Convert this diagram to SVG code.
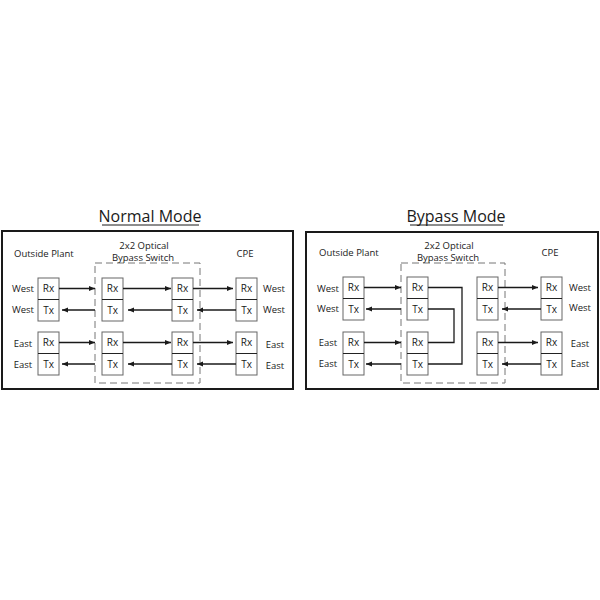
<svg xmlns="http://www.w3.org/2000/svg" width="600" height="600" viewBox="0 0 600 600">
<defs>
<marker id="ah" viewBox="0 0 6 6" refX="6" refY="3" markerWidth="6" markerHeight="6" markerUnits="userSpaceOnUse" orient="auto">
<path d="M0,0.5 L6,3 L0,5.5 Z" fill="#1a1a1a"/>
</marker>
<style>
text{font-family:"Open Sans","Liberation Sans",sans-serif;fill:#1a1a1a}
.t{font-size:16px;text-anchor:middle}
.l{font-size:9.5px}
.b{font-size:10px}
.c{text-anchor:middle}
.box{fill:#fff;stroke:#666;stroke-width:1}
.div{stroke:#222;stroke-width:1}
.frame{fill:#fff;stroke:#1a1a1a;stroke-width:2}
.dash{fill:none;stroke:#777;stroke-width:1;stroke-dasharray:7,4}
.ar{stroke:#1a1a1a;stroke-width:1.3;fill:none;marker-end:url(#ah)}
.ln{stroke:#1a1a1a;stroke-width:1.3;fill:none}
</style>
</defs>
<rect width="600" height="600" fill="#fff"/>

<!-- Normal Mode panel -->
<g id="normal-mode">
<text class="t" x="150" y="222">Normal Mode</text>
<line x1="102" y1="225" x2="199" y2="225" stroke="#1a1a1a" stroke-width="1"/>
<rect class="frame" x="2" y="231" width="291" height="158"/>
<rect class="dash" x="95" y="263" width="105" height="120"/>
<text class="l" x="14" y="257">Outside Plant</text>
<text class="l c" x="144" y="249">2x2 Optical</text>
<text class="l c" x="143" y="261">Bypass Switch</text>
<text class="l c" x="245" y="257">CPE</text>
<text class="l c" x="23" y="292">West</text>
<text class="l c" x="23" y="313">West</text>
<text class="l c" x="23" y="347">East</text>
<text class="l c" x="23" y="368">East</text>
<text class="l c" x="274" y="292">West</text>
<text class="l c" x="274" y="313">West</text>
<text class="l c" x="275" y="348">East</text>
<text class="l c" x="275" y="369">East</text>

<g id="n-op-west"><rect class="box" x="38" y="278" width="21" height="43"/><line class="div" x1="38" y1="299.5" x2="59" y2="299.5"/><text class="b c" x="48.5" y="292">Rx</text><text class="b c" x="48.5" y="314">Tx</text></g>
<g id="n-op-east"><rect class="box" x="38" y="332" width="21" height="43"/><line class="div" x1="38" y1="353.5" x2="59" y2="353.5"/><text class="b c" x="48.5" y="346">Rx</text><text class="b c" x="48.5" y="368">Tx</text></g>
<g id="n-sw-lw"><rect class="box" x="102" y="278" width="21" height="43"/><line class="div" x1="102" y1="299.5" x2="123" y2="299.5"/><text class="b c" x="112.5" y="292">Rx</text><text class="b c" x="112.5" y="314">Tx</text></g>
<g id="n-sw-le"><rect class="box" x="102" y="332" width="21" height="43"/><line class="div" x1="102" y1="353.5" x2="123" y2="353.5"/><text class="b c" x="112.5" y="346">Rx</text><text class="b c" x="112.5" y="368">Tx</text></g>
<g id="n-sw-rw"><rect class="box" x="172" y="278" width="21" height="43"/><line class="div" x1="172" y1="299.5" x2="193" y2="299.5"/><text class="b c" x="182.5" y="292">Rx</text><text class="b c" x="182.5" y="314">Tx</text></g>
<g id="n-sw-re"><rect class="box" x="172" y="332" width="21" height="43"/><line class="div" x1="172" y1="353.5" x2="193" y2="353.5"/><text class="b c" x="182.5" y="346">Rx</text><text class="b c" x="182.5" y="368">Tx</text></g>
<g id="n-cpe-west"><rect class="box" x="236" y="278" width="21" height="43"/><line class="div" x1="236" y1="299.5" x2="257" y2="299.5"/><text class="b c" x="246.5" y="292">Rx</text><text class="b c" x="246.5" y="314">Tx</text></g>
<g id="n-cpe-east"><rect class="box" x="236" y="332" width="21" height="43"/><line class="div" x1="236" y1="353.5" x2="257" y2="353.5"/><text class="b c" x="246.5" y="346">Rx</text><text class="b c" x="246.5" y="368">Tx</text></g>

<g id="n-connectors">
<line class="ar" x1="59" y1="288.5" x2="95" y2="288.5"/>
<line class="ar" x1="123" y1="288.5" x2="171" y2="288.5"/>
<line class="ar" x1="193" y1="288.5" x2="233" y2="288.5"/>
<line class="ar" x1="236" y1="310" x2="197" y2="310"/>
<line class="ar" x1="172" y1="310" x2="128" y2="310"/>
<line class="ar" x1="95" y1="310" x2="62" y2="310"/>
<line class="ar" x1="59" y1="342.5" x2="95" y2="342.5"/>
<line class="ar" x1="123" y1="342.5" x2="171" y2="342.5"/>
<line class="ar" x1="193" y1="342.5" x2="233" y2="342.5"/>
<line class="ar" x1="236" y1="364" x2="197" y2="364"/>
<line class="ar" x1="172" y1="364" x2="128" y2="364"/>
<line class="ar" x1="95" y1="364" x2="62" y2="364"/>
</g>
</g>

<!-- Bypass Mode panel -->
<g id="bypass-mode">
<text class="t" x="456" y="222">Bypass Mode</text>
<line x1="410" y1="225" x2="503" y2="225" stroke="#1a1a1a" stroke-width="1"/>
<rect class="frame" x="306" y="232" width="292" height="157"/>
<rect class="dash" x="401" y="263" width="104" height="120"/>
<text class="l" x="319" y="256">Outside Plant</text>
<text class="l c" x="449" y="249">2x2 Optical</text>
<text class="l c" x="448" y="261">Bypass Switch</text>
<text class="l c" x="550" y="256">CPE</text>
<text class="l c" x="328" y="292">West</text>
<text class="l c" x="328" y="312">West</text>
<text class="l c" x="328" y="346">East</text>
<text class="l c" x="328" y="367">East</text>
<text class="l c" x="580" y="291">West</text>
<text class="l c" x="580" y="311">West</text>
<text class="l c" x="580" y="347">East</text>
<text class="l c" x="580" y="367">East</text>

<g id="b-op-west"><rect class="box" x="343" y="277" width="21" height="43"/><line class="div" x1="343" y1="298.5" x2="364" y2="298.5"/><text class="b c" x="353.5" y="291">Rx</text><text class="b c" x="353.5" y="313">Tx</text></g>
<g id="b-op-east"><rect class="box" x="343" y="332" width="21" height="43"/><line class="div" x1="343" y1="353.5" x2="364" y2="353.5"/><text class="b c" x="353.5" y="346">Rx</text><text class="b c" x="353.5" y="368">Tx</text></g>
<g id="b-sw-lw"><rect class="box" x="407" y="277" width="21" height="43"/><line class="div" x1="407" y1="298.5" x2="428" y2="298.5"/><text class="b c" x="417.5" y="291">Rx</text><text class="b c" x="417.5" y="313">Tx</text></g>
<g id="b-sw-le"><rect class="box" x="407" y="332" width="21" height="43"/><line class="div" x1="407" y1="353.5" x2="428" y2="353.5"/><text class="b c" x="417.5" y="346">Rx</text><text class="b c" x="417.5" y="368">Tx</text></g>
<g id="b-sw-rw"><rect class="box" x="477" y="277" width="21" height="43"/><line class="div" x1="477" y1="298.5" x2="498" y2="298.5"/><text class="b c" x="487.5" y="291">Rx</text><text class="b c" x="487.5" y="313">Tx</text></g>
<g id="b-sw-re"><rect class="box" x="477" y="332" width="21" height="43"/><line class="div" x1="477" y1="353.5" x2="498" y2="353.5"/><text class="b c" x="487.5" y="346">Rx</text><text class="b c" x="487.5" y="368">Tx</text></g>
<g id="b-cpe-west"><rect class="box" x="541" y="277" width="21" height="43"/><line class="div" x1="541" y1="298.5" x2="562" y2="298.5"/><text class="b c" x="551.5" y="291">Rx</text><text class="b c" x="551.5" y="313">Tx</text></g>
<g id="b-cpe-east"><rect class="box" x="541" y="332" width="21" height="43"/><line class="div" x1="541" y1="353.5" x2="562" y2="353.5"/><text class="b c" x="551.5" y="346">Rx</text><text class="b c" x="551.5" y="368">Tx</text></g>

<g id="b-connectors">
<line class="ar" x1="364" y1="287.5" x2="401" y2="287.5"/>
<line class="ar" x1="401" y1="309" x2="366" y2="309"/>
<line class="ar" x1="364" y1="342.5" x2="401" y2="342.5"/>
<line class="ar" x1="401" y1="364" x2="366" y2="364"/>
<polyline class="ln" points="428,287.5 462,287.5 462,364 428,364"/>
<polyline class="ln" points="428,309 454,309 454,342.5 428,342.5"/>
<line class="ar" x1="498" y1="287.5" x2="538" y2="287.5"/>
<line class="ar" x1="541" y1="309" x2="502" y2="309"/>
<line class="ar" x1="498" y1="342.5" x2="538" y2="342.5"/>
<line class="ar" x1="541" y1="364" x2="502" y2="364"/>
</g>
</g>
</svg>
